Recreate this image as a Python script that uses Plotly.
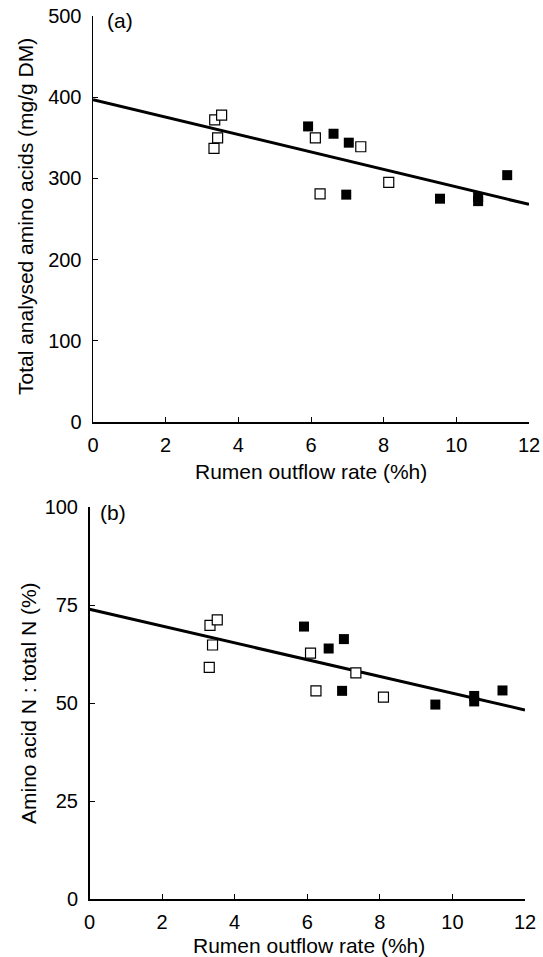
import plotly.graph_objects as go

# ---- data ----
x_ticks = [0, 2, 4, 6, 8, 10, 12]
a_ticks = [0, 100, 200, 300, 400, 500]
b_ticks = [0, 25, 50, 75, 100]

a_open_x = [3.35, 3.54, 3.43, 3.33, 6.12, 7.37, 8.14, 6.25]
a_open_y = [372, 378, 350, 337, 350, 339, 295, 281]
a_fill_x = [5.92, 6.62, 7.04, 6.97, 9.55, 10.6, 10.6, 11.4]
a_fill_y = [364, 355, 344, 280, 275, 277, 272, 304]
a_intercept, a_slope = 397.0, -10.75

b_open_x = [3.32, 3.52, 3.39, 3.30, 6.09, 7.34, 6.24, 8.10]
b_open_y = [69.8, 71.2, 64.8, 59.1, 62.7, 57.7, 53.1, 51.5]
b_fill_x = [5.91, 6.59, 7.01, 6.96, 9.53, 10.6, 10.6, 11.38]
b_fill_y = [69.5, 63.9, 66.3, 53.1, 49.6, 51.8, 50.4, 53.2]
b_intercept, b_slope = 73.9, -2.14

line_x = [0, 12]

W, H = 543, 957
FONT = "Liberation Sans, Arial, Helvetica, sans-serif"


def px(v):
    return v / W


def py(v):
    return 1 - v / H


fig = go.Figure()


def add_panel(ox, oy, fx, fy, icpt, slope, xa, ya):
    fig.add_trace(go.Scatter(
        x=line_x, y=[icpt + slope * v for v in line_x], mode="lines",
        line=dict(color="black", width=3), xaxis=xa, yaxis=ya,
        showlegend=False, hoverinfo="skip", cliponaxis=False))
    fig.add_trace(go.Scatter(
        x=ox, y=oy, mode="markers", xaxis=xa, yaxis=ya, showlegend=False,
        cliponaxis=False,
        marker=dict(symbol="square", size=10, color="white",
                    line=dict(color="black", width=1.2))))
    fig.add_trace(go.Scatter(
        x=fx, y=fy, mode="markers", xaxis=xa, yaxis=ya, showlegend=False,
        cliponaxis=False,
        marker=dict(symbol="square", size=10, color="black",
                    line=dict(color="black", width=0))))


add_panel(a_open_x, a_open_y, a_fill_x, a_fill_y, a_intercept, a_slope, "x", "y")
add_panel(b_open_x, b_open_y, b_fill_x, b_fill_y, b_intercept, b_slope, "x2", "y2")

common = dict(showline=True, linecolor="black", linewidth=1.5, ticks="inside",
              ticklen=5, tickwidth=1, tickcolor="black", showgrid=False,
              zeroline=False, mirror=False, automargin=False,
              ticklabeloverflow="allow",
              tickfont=dict(family=FONT, size=20, color="black"))

fig.update_layout(
    template="none",
    width=W, height=H, paper_bgcolor="white", plot_bgcolor="white",
    margin=dict(l=0, r=0, t=0, b=0, pad=0), autosize=False,
    font=dict(family=FONT, color="black"),
    xaxis=dict(domain=[px(93), px(529)], anchor="y", range=[0, 12],
               tickvals=x_ticks, ticklabelstandoff=4, **common),
    yaxis=dict(domain=[py(422), py(16)], anchor="x", range=[0, 500],
               tickvals=a_ticks, ticklabelstandoff=6, **common),
    xaxis2=dict(domain=[px(89.5), px(525)], anchor="y2", range=[0, 12],
                tickvals=x_ticks, ticklabelstandoff=4, **common),
    yaxis2=dict(domain=[py(899), py(507)], anchor="x2", range=[0, 100],
                tickvals=b_ticks, ticklabelstandoff=6, **common),
)

ann = dict(xref="paper", yref="paper", showarrow=False, xanchor="center",
           yanchor="middle", font=dict(family=FONT, size=21, color="black"))
fig.add_annotation(text="Rumen outflow rate (%h)", x=px(311), y=py(471), **ann)
fig.add_annotation(text="Rumen outflow rate (%h)", x=px(309), y=py(945), **ann)
fig.add_annotation(text="Total analysed amino acids (mg/g DM)", x=px(25), y=py(217),
                   textangle=-90, **ann)
fig.add_annotation(text="Amino acid N : total N (%)", x=px(28), y=py(703),
                   textangle=-90, **ann)
fig.add_annotation(text="(a)", x=px(120), y=py(20), **ann)
fig.add_annotation(text="(b)", x=px(113), y=py(512), **ann)

# remove the browser's default 8px page margin so the figure fills the window
fig.write_html("out.html",
               config={"displayModeBar": False, "staticPlot": True},
               post_script="document.body.style.margin='0px';"
                           "document.body.style.overflow='hidden';")
